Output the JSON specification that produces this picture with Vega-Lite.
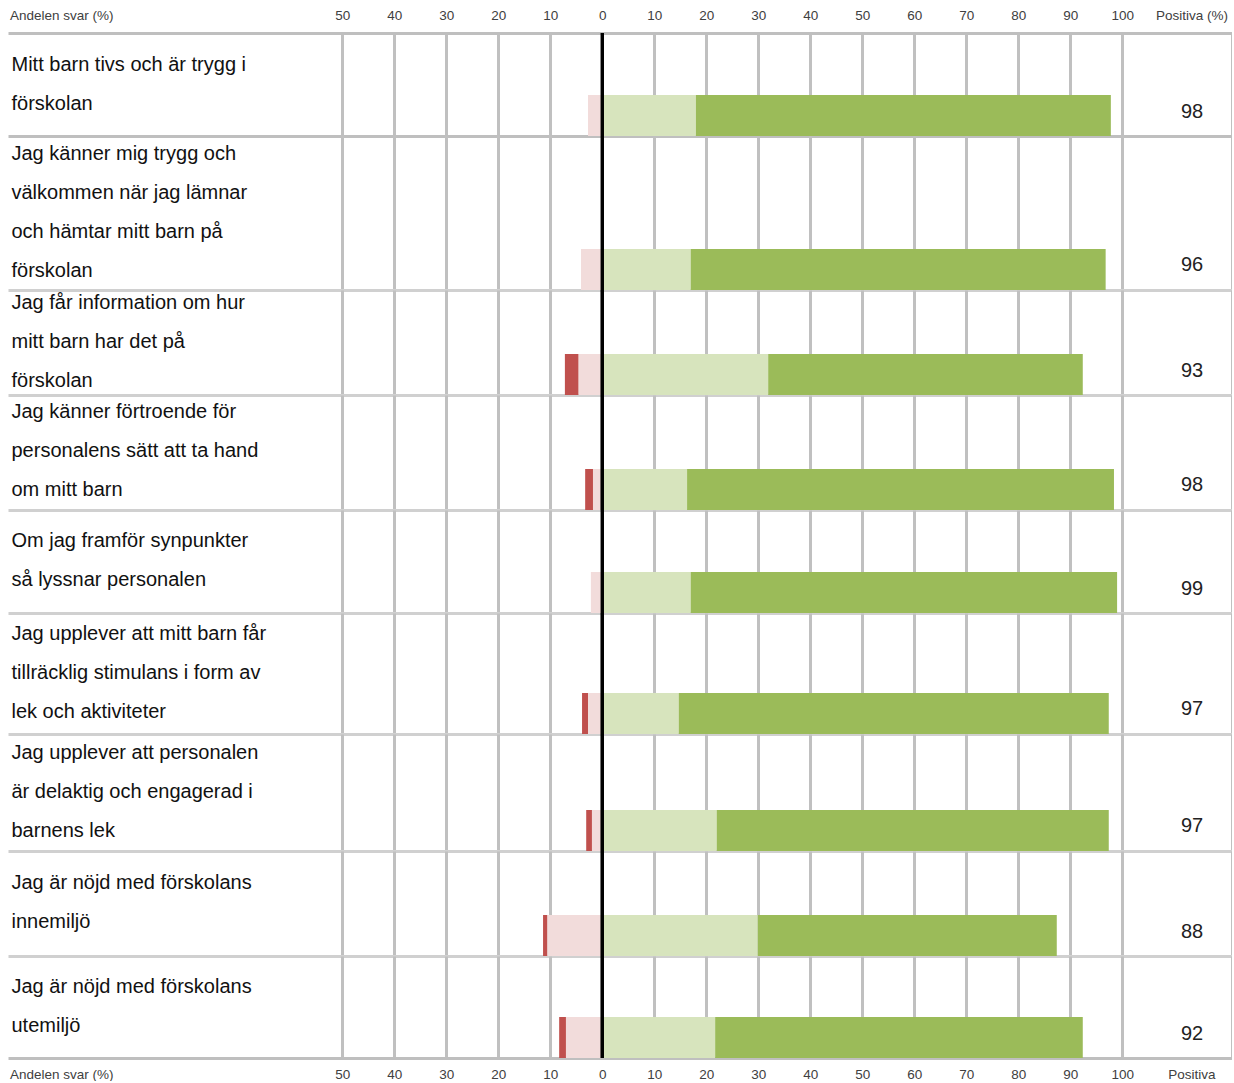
{
  "$schema": "https://vega.github.io/schema/vega-lite/v6.json",
  "padding": {"left": 8, "top": 8, "right": 0, "bottom": 0},
  "bounds": "flush",
  "spacing": 0,
  "background": "white",
  "config": {
    "view": {"stroke": null},
    "font": "Liberation Sans",
    "axis": {"labelFont": "Liberation Sans", "title": null}
  },
  "datasets": {
    "svar": [
      {"row": 1, "q": "Mitt barn tivs och är trygg i|förskolan", "pos": "98", "cat": "Negativ", "k": 1, "value": -2.75},
      {"row": 1, "q": "Mitt barn tivs och är trygg i|förskolan", "pos": "98", "cat": "Positiv", "k": 3, "value": 18.0},
      {"row": 1, "q": "Mitt barn tivs och är trygg i|förskolan", "pos": "98", "cat": "Mycket positiv", "k": 4, "value": 79.8},
      {"row": 2, "q": "Jag känner mig trygg och|välkommen när jag lämnar|och hämtar mitt barn på|förskolan", "pos": "96", "cat": "Negativ", "k": 1, "value": -4.1},
      {"row": 2, "q": "Jag känner mig trygg och|välkommen när jag lämnar|och hämtar mitt barn på|förskolan", "pos": "96", "cat": "Positiv", "k": 3, "value": 17.0},
      {"row": 2, "q": "Jag känner mig trygg och|välkommen när jag lämnar|och hämtar mitt barn på|förskolan", "pos": "96", "cat": "Mycket positiv", "k": 4, "value": 79.8},
      {"row": 3, "q": "Jag får information om hur|mitt barn har det på|förskolan", "pos": "93", "cat": "Negativ", "k": 1, "value": -4.6},
      {"row": 3, "q": "Jag får information om hur|mitt barn har det på|förskolan", "pos": "93", "cat": "Mycket negativ", "k": 2, "value": -2.6},
      {"row": 3, "q": "Jag får information om hur|mitt barn har det på|förskolan", "pos": "93", "cat": "Positiv", "k": 3, "value": 31.9},
      {"row": 3, "q": "Jag får information om hur|mitt barn har det på|förskolan", "pos": "93", "cat": "Mycket positiv", "k": 4, "value": 60.5},
      {"row": 4, "q": "Jag känner förtroende för|personalens sätt att ta hand|om mitt barn", "pos": "98", "cat": "Negativ", "k": 1, "value": -1.8},
      {"row": 4, "q": "Jag känner förtroende för|personalens sätt att ta hand|om mitt barn", "pos": "98", "cat": "Mycket negativ", "k": 2, "value": -1.5},
      {"row": 4, "q": "Jag känner förtroende för|personalens sätt att ta hand|om mitt barn", "pos": "98", "cat": "Positiv", "k": 3, "value": 16.3},
      {"row": 4, "q": "Jag känner förtroende för|personalens sätt att ta hand|om mitt barn", "pos": "98", "cat": "Mycket positiv", "k": 4, "value": 82.1},
      {"row": 5, "q": "Om jag framför synpunkter|så lyssnar personalen", "pos": "99", "cat": "Negativ", "k": 1, "value": -2.2},
      {"row": 5, "q": "Om jag framför synpunkter|så lyssnar personalen", "pos": "99", "cat": "Positiv", "k": 3, "value": 17.0},
      {"row": 5, "q": "Om jag framför synpunkter|så lyssnar personalen", "pos": "99", "cat": "Mycket positiv", "k": 4, "value": 82.0},
      {"row": 6, "q": "Jag upplever att mitt barn får|tillräcklig stimulans i form av|lek och aktiviteter", "pos": "97", "cat": "Negativ", "k": 1, "value": -2.75},
      {"row": 6, "q": "Jag upplever att mitt barn får|tillräcklig stimulans i form av|lek och aktiviteter", "pos": "97", "cat": "Mycket negativ", "k": 2, "value": -1.15},
      {"row": 6, "q": "Jag upplever att mitt barn får|tillräcklig stimulans i form av|lek och aktiviteter", "pos": "97", "cat": "Positiv", "k": 3, "value": 14.7},
      {"row": 6, "q": "Jag upplever att mitt barn får|tillräcklig stimulans i form av|lek och aktiviteter", "pos": "97", "cat": "Mycket positiv", "k": 4, "value": 82.7},
      {"row": 7, "q": "Jag upplever att personalen|är delaktig och engagerad i|barnens lek", "pos": "97", "cat": "Negativ", "k": 1, "value": -2.0},
      {"row": 7, "q": "Jag upplever att personalen|är delaktig och engagerad i|barnens lek", "pos": "97", "cat": "Mycket negativ", "k": 2, "value": -1.1},
      {"row": 7, "q": "Jag upplever att personalen|är delaktig och engagerad i|barnens lek", "pos": "97", "cat": "Positiv", "k": 3, "value": 22.0},
      {"row": 7, "q": "Jag upplever att personalen|är delaktig och engagerad i|barnens lek", "pos": "97", "cat": "Mycket positiv", "k": 4, "value": 75.4},
      {"row": 8, "q": "Jag är nöjd med förskolans|innemiljö", "pos": "88", "cat": "Negativ", "k": 1, "value": -10.6},
      {"row": 8, "q": "Jag är nöjd med förskolans|innemiljö", "pos": "88", "cat": "Mycket negativ", "k": 2, "value": -0.8},
      {"row": 8, "q": "Jag är nöjd med förskolans|innemiljö", "pos": "88", "cat": "Positiv", "k": 3, "value": 29.9},
      {"row": 8, "q": "Jag är nöjd med förskolans|innemiljö", "pos": "88", "cat": "Mycket positiv", "k": 4, "value": 57.5},
      {"row": 9, "q": "Jag är nöjd med förskolans|utemiljö", "pos": "92", "cat": "Negativ", "k": 1, "value": -7.0},
      {"row": 9, "q": "Jag är nöjd med förskolans|utemiljö", "pos": "92", "cat": "Mycket negativ", "k": 2, "value": -1.3},
      {"row": 9, "q": "Jag är nöjd med förskolans|utemiljö", "pos": "92", "cat": "Positiv", "k": 3, "value": 21.7},
      {"row": 9, "q": "Jag är nöjd med förskolans|utemiljö", "pos": "92", "cat": "Mycket positiv", "k": 4, "value": 70.7}
    ]
  },
  "data": {"name": "svar"},
  "vconcat": [
    {
      "height": 103, "width": 1224,
      "transform": [{"filter": "datum.row == 1"}],
      "layer": [
        {"transform": [{"filter": "datum.value < 0"}], "mark": "bar",
         "encoding": {
           "y": {"field": "q", "type": "nominal", "scale": {"paddingInner": 0, "paddingOuter": 0.7561, "align": 1},
                 "axis": {"orient": "left", "domain": false, "ticks": false, "tickSize": 0, "grid": false, "labelAlign": "left", "labelBaseline": "middle", "labelPadding": -3, "labelOffset": -51, "labelFontSize": 20, "labelLineHeight": 39, "labelLimit": 600, "labelColor": "#111111", "labelExpr": "split(datum.label, '|')"}},
           "x": {"field": "value", "type": "quantitative", "stack": "zero", "scale": {"domain": [-114.3, 121.1], "nice": false, "zero": false},
                 "axis": {"orient": "top", "values": [-114, -50, -40, -30, -20, -10, 0, 10, 20, 30, 40, 50, 60, 70, 80, 90, 100, 113.3, 121.1], "ticks": false, "domain": true, "domainColor": "#bfbfbf", "domainWidth": 3, "grid": true, "gridColor": "#c0c0c0", "gridWidth": 3, "gridOpacity": {"condition": {"test": "datum.value < -100 || (datum.value > 110 && datum.value < 120)", "value": 0}, "value": 1}, "labelPadding": 11, "labelFontSize": 13.5, "labelColor": "#404040", "labelFlush": false, "labelOverlap": false, "labelBound": false, "labelAlign": {"condition": {"test": "datum.value < -100", "value": "left"}, "value": "center"}, "labelExpr": "datum.value < -100 ? 'Andelen svar (%)' : datum.value > 120 ? '' : datum.value > 110 ? 'Positiva (%)' : '' + abs(datum.value)"}},
           "color": {"field": "cat", "type": "nominal", "scale": {"domain": ["Mycket negativ", "Negativ", "Positiv", "Mycket positiv"], "range": ["#c0504d", "#f2dcdb", "#d7e4bd", "#9bbb59"]}, "legend": null},
           "order": {"field": "k"}
         }},
        {"transform": [{"filter": "datum.value > 0"}], "mark": "bar",
         "encoding": {
           "y": {"field": "pos", "type": "nominal", "scale": {"paddingInner": 0, "paddingOuter": 0.7561, "align": 1},
                 "axis": {"orient": "right", "domain": false, "ticks": false, "tickSize": 0, "grid": false, "labelAlign": "center", "labelBaseline": "middle", "labelPadding": -40.5, "labelOffset": -4, "labelFontSize": 20, "labelColor": "#222222"}},
           "x": {"field": "value", "type": "quantitative", "stack": "zero", "scale": {"domain": [-114.3, 121.1], "nice": false, "zero": false},
                 "axis": {"orient": "bottom", "values": [0], "labels": false, "ticks": false, "grid": false, "domain": true, "domainColor": "#bfbfbf", "domainWidth": 3}},
           "color": {"field": "cat", "type": "nominal", "scale": {"domain": ["Mycket negativ", "Negativ", "Positiv", "Mycket positiv"], "range": ["#c0504d", "#f2dcdb", "#d7e4bd", "#9bbb59"]}, "legend": null},
           "order": {"field": "k"}
         }},
        {"mark": {"type": "rule", "color": "black", "strokeWidth": 3}, "encoding": {"x": {"datum": 0, "type": "quantitative", "axis": null}}}
      ],
      "resolve": {"scale": {"y": "independent"}, "axis": {"x": "independent", "y": "independent"}}
    },
    {
      "height": 154, "width": 1224,
      "transform": [{"filter": "datum.row == 2"}],
      "layer": [
        {"transform": [{"filter": "datum.value < 0"}], "mark": "bar",
         "encoding": {
           "y": {"field": "q", "type": "nominal", "scale": {"paddingInner": 0.2743, "paddingOuter": 1, "align": 1},
                 "axis": {"orient": "left", "domain": false, "ticks": false, "tickSize": 0, "grid": false, "labelAlign": "left", "labelBaseline": "middle", "labelPadding": -3, "labelOffset": -115.5, "labelFontSize": 20, "labelLineHeight": 39, "labelLimit": 600, "labelColor": "#111111", "labelExpr": "split(datum.label, '|')"}},
           "x": {"field": "value", "type": "quantitative", "stack": "zero", "scale": {"domain": [-114.3, 121.1], "nice": false, "zero": false},
                 "axis": {"orient": "bottom", "values": [-50, -40, -30, -20, -10, 0, 10, 20, 30, 40, 50, 60, 70, 80, 90, 100, 121.1], "labels": false, "ticks": false, "domain": true, "domainColor": "#d0d0d0", "domainWidth": 3, "grid": true, "gridColor": "#c0c0c0", "gridWidth": 3}},
           "color": {"field": "cat", "type": "nominal", "scale": {"domain": ["Mycket negativ", "Negativ", "Positiv", "Mycket positiv"], "range": ["#c0504d", "#f2dcdb", "#d7e4bd", "#9bbb59"]}, "legend": null},
           "order": {"field": "k"}
         }},
        {"transform": [{"filter": "datum.value > 0"}], "mark": "bar",
         "encoding": {
           "y": {"field": "pos", "type": "nominal", "scale": {"paddingInner": 0.2743, "paddingOuter": 1, "align": 1},
                 "axis": {"orient": "right", "domain": false, "ticks": false, "tickSize": 0, "grid": false, "labelAlign": "center", "labelBaseline": "middle", "labelPadding": -40.5, "labelOffset": -4, "labelFontSize": 20, "labelColor": "#222222"}},
           "x": {"field": "value", "type": "quantitative", "stack": "zero", "scale": {"domain": [-114.3, 121.1], "nice": false, "zero": false}, "axis": null},
           "color": {"field": "cat", "type": "nominal", "scale": {"domain": ["Mycket negativ", "Negativ", "Positiv", "Mycket positiv"], "range": ["#c0504d", "#f2dcdb", "#d7e4bd", "#9bbb59"]}, "legend": null},
           "order": {"field": "k"}
         }},
        {"mark": {"type": "rule", "color": "black", "strokeWidth": 3}, "encoding": {"x": {"datum": 0, "type": "quantitative", "axis": null}}}
      ],
      "resolve": {"scale": {"y": "independent"}, "axis": {"x": "independent", "y": "independent"}}
    },
    {
      "height": 105, "width": 1224,
      "transform": [{"filter": "datum.row == 3"}],
      "layer": [
        {"transform": [{"filter": "datum.value < 0"}], "mark": "bar",
         "encoding": {
           "y": {"field": "q", "type": "nominal", "scale": {"paddingInner": 0, "paddingOuter": 0.7805, "align": 1},
                 "axis": {"orient": "left", "domain": false, "ticks": false, "tickSize": 0, "grid": false, "labelAlign": "left", "labelBaseline": "middle", "labelPadding": -3, "labelOffset": -72, "labelFontSize": 20, "labelLineHeight": 39, "labelLimit": 600, "labelColor": "#111111", "labelExpr": "split(datum.label, '|')"}},
           "x": {"field": "value", "type": "quantitative", "stack": "zero", "scale": {"domain": [-114.3, 121.1], "nice": false, "zero": false},
                 "axis": {"orient": "bottom", "values": [-50, -40, -30, -20, -10, 0, 10, 20, 30, 40, 50, 60, 70, 80, 90, 100, 121.1], "labels": false, "ticks": false, "domain": true, "domainColor": "#d0d0d0", "domainWidth": 3, "grid": true, "gridColor": "#c0c0c0", "gridWidth": 3}},
           "color": {"field": "cat", "type": "nominal", "scale": {"domain": ["Mycket negativ", "Negativ", "Positiv", "Mycket positiv"], "range": ["#c0504d", "#f2dcdb", "#d7e4bd", "#9bbb59"]}, "legend": null},
           "order": {"field": "k"}
         }},
        {"transform": [{"filter": "datum.value > 0"}], "mark": "bar",
         "encoding": {
           "y": {"field": "pos", "type": "nominal", "scale": {"paddingInner": 0, "paddingOuter": 0.7805, "align": 1},
                 "axis": {"orient": "right", "domain": false, "ticks": false, "tickSize": 0, "grid": false, "labelAlign": "center", "labelBaseline": "middle", "labelPadding": -40.5, "labelOffset": -4, "labelFontSize": 20, "labelColor": "#222222"}},
           "x": {"field": "value", "type": "quantitative", "stack": "zero", "scale": {"domain": [-114.3, 121.1], "nice": false, "zero": false}, "axis": null},
           "color": {"field": "cat", "type": "nominal", "scale": {"domain": ["Mycket negativ", "Negativ", "Positiv", "Mycket positiv"], "range": ["#c0504d", "#f2dcdb", "#d7e4bd", "#9bbb59"]}, "legend": null},
           "order": {"field": "k"}
         }},
        {"mark": {"type": "rule", "color": "black", "strokeWidth": 3}, "encoding": {"x": {"datum": 0, "type": "quantitative", "axis": null}}}
      ],
      "resolve": {"scale": {"y": "independent"}, "axis": {"x": "independent", "y": "independent"}}
    },
    {
      "height": 115, "width": 1224,
      "transform": [{"filter": "datum.row == 4"}],
      "layer": [
        {"transform": [{"filter": "datum.value < 0"}], "mark": "bar",
         "encoding": {
           "y": {"field": "q", "type": "nominal", "scale": {"paddingInner": 0, "paddingOuter": 0.9024, "align": 1},
                 "axis": {"orient": "left", "domain": false, "ticks": false, "tickSize": 0, "grid": false, "labelAlign": "left", "labelBaseline": "middle", "labelPadding": -3, "labelOffset": -77, "labelFontSize": 20, "labelLineHeight": 39, "labelLimit": 600, "labelColor": "#111111", "labelExpr": "split(datum.label, '|')"}},
           "x": {"field": "value", "type": "quantitative", "stack": "zero", "scale": {"domain": [-114.3, 121.1], "nice": false, "zero": false},
                 "axis": {"orient": "bottom", "values": [-50, -40, -30, -20, -10, 0, 10, 20, 30, 40, 50, 60, 70, 80, 90, 100, 121.1], "labels": false, "ticks": false, "domain": true, "domainColor": "#d0d0d0", "domainWidth": 3, "grid": true, "gridColor": "#c0c0c0", "gridWidth": 3}},
           "color": {"field": "cat", "type": "nominal", "scale": {"domain": ["Mycket negativ", "Negativ", "Positiv", "Mycket positiv"], "range": ["#c0504d", "#f2dcdb", "#d7e4bd", "#9bbb59"]}, "legend": null},
           "order": {"field": "k"}
         }},
        {"transform": [{"filter": "datum.value > 0"}], "mark": "bar",
         "encoding": {
           "y": {"field": "pos", "type": "nominal", "scale": {"paddingInner": 0, "paddingOuter": 0.9024, "align": 1},
                 "axis": {"orient": "right", "domain": false, "ticks": false, "tickSize": 0, "grid": false, "labelAlign": "center", "labelBaseline": "middle", "labelPadding": -40.5, "labelOffset": -4, "labelFontSize": 20, "labelColor": "#222222"}},
           "x": {"field": "value", "type": "quantitative", "stack": "zero", "scale": {"domain": [-114.3, 121.1], "nice": false, "zero": false}, "axis": null},
           "color": {"field": "cat", "type": "nominal", "scale": {"domain": ["Mycket negativ", "Negativ", "Positiv", "Mycket positiv"], "range": ["#c0504d", "#f2dcdb", "#d7e4bd", "#9bbb59"]}, "legend": null},
           "order": {"field": "k"}
         }},
        {"mark": {"type": "rule", "color": "black", "strokeWidth": 3}, "encoding": {"x": {"datum": 0, "type": "quantitative", "axis": null}}}
      ],
      "resolve": {"scale": {"y": "independent"}, "axis": {"x": "independent", "y": "independent"}}
    },
    {
      "height": 103, "width": 1224,
      "transform": [{"filter": "datum.row == 5"}],
      "layer": [
        {"transform": [{"filter": "datum.value < 0"}], "mark": "bar",
         "encoding": {
           "y": {"field": "q", "type": "nominal", "scale": {"paddingInner": 0, "paddingOuter": 0.7561, "align": 1},
                 "axis": {"orient": "left", "domain": false, "ticks": false, "tickSize": 0, "grid": false, "labelAlign": "left", "labelBaseline": "middle", "labelPadding": -3, "labelOffset": -52, "labelFontSize": 20, "labelLineHeight": 39, "labelLimit": 600, "labelColor": "#111111", "labelExpr": "split(datum.label, '|')"}},
           "x": {"field": "value", "type": "quantitative", "stack": "zero", "scale": {"domain": [-114.3, 121.1], "nice": false, "zero": false},
                 "axis": {"orient": "bottom", "values": [-50, -40, -30, -20, -10, 0, 10, 20, 30, 40, 50, 60, 70, 80, 90, 100, 121.1], "labels": false, "ticks": false, "domain": true, "domainColor": "#d0d0d0", "domainWidth": 3, "grid": true, "gridColor": "#c0c0c0", "gridWidth": 3}},
           "color": {"field": "cat", "type": "nominal", "scale": {"domain": ["Mycket negativ", "Negativ", "Positiv", "Mycket positiv"], "range": ["#c0504d", "#f2dcdb", "#d7e4bd", "#9bbb59"]}, "legend": null},
           "order": {"field": "k"}
         }},
        {"transform": [{"filter": "datum.value > 0"}], "mark": "bar",
         "encoding": {
           "y": {"field": "pos", "type": "nominal", "scale": {"paddingInner": 0, "paddingOuter": 0.7561, "align": 1},
                 "axis": {"orient": "right", "domain": false, "ticks": false, "tickSize": 0, "grid": false, "labelAlign": "center", "labelBaseline": "middle", "labelPadding": -40.5, "labelOffset": -4, "labelFontSize": 20, "labelColor": "#222222"}},
           "x": {"field": "value", "type": "quantitative", "stack": "zero", "scale": {"domain": [-114.3, 121.1], "nice": false, "zero": false}, "axis": null},
           "color": {"field": "cat", "type": "nominal", "scale": {"domain": ["Mycket negativ", "Negativ", "Positiv", "Mycket positiv"], "range": ["#c0504d", "#f2dcdb", "#d7e4bd", "#9bbb59"]}, "legend": null},
           "order": {"field": "k"}
         }},
        {"mark": {"type": "rule", "color": "black", "strokeWidth": 3}, "encoding": {"x": {"datum": 0, "type": "quantitative", "axis": null}}}
      ],
      "resolve": {"scale": {"y": "independent"}, "axis": {"x": "independent", "y": "independent"}}
    },
    {
      "height": 121, "width": 1224,
      "transform": [{"filter": "datum.row == 6"}],
      "layer": [
        {"transform": [{"filter": "datum.value < 0"}], "mark": "bar",
         "encoding": {
           "y": {"field": "q", "type": "nominal", "scale": {"paddingInner": 0, "paddingOuter": 0.9756, "align": 1},
                 "axis": {"orient": "left", "domain": false, "ticks": false, "tickSize": 0, "grid": false, "labelAlign": "left", "labelBaseline": "middle", "labelPadding": -3, "labelOffset": -79, "labelFontSize": 20, "labelLineHeight": 39, "labelLimit": 600, "labelColor": "#111111", "labelExpr": "split(datum.label, '|')"}},
           "x": {"field": "value", "type": "quantitative", "stack": "zero", "scale": {"domain": [-114.3, 121.1], "nice": false, "zero": false},
                 "axis": {"orient": "bottom", "values": [-50, -40, -30, -20, -10, 0, 10, 20, 30, 40, 50, 60, 70, 80, 90, 100, 121.1], "labels": false, "ticks": false, "domain": true, "domainColor": "#d0d0d0", "domainWidth": 3, "grid": true, "gridColor": "#c0c0c0", "gridWidth": 3}},
           "color": {"field": "cat", "type": "nominal", "scale": {"domain": ["Mycket negativ", "Negativ", "Positiv", "Mycket positiv"], "range": ["#c0504d", "#f2dcdb", "#d7e4bd", "#9bbb59"]}, "legend": null},
           "order": {"field": "k"}
         }},
        {"transform": [{"filter": "datum.value > 0"}], "mark": "bar",
         "encoding": {
           "y": {"field": "pos", "type": "nominal", "scale": {"paddingInner": 0, "paddingOuter": 0.9756, "align": 1},
                 "axis": {"orient": "right", "domain": false, "ticks": false, "tickSize": 0, "grid": false, "labelAlign": "center", "labelBaseline": "middle", "labelPadding": -40.5, "labelOffset": -4, "labelFontSize": 20, "labelColor": "#222222"}},
           "x": {"field": "value", "type": "quantitative", "stack": "zero", "scale": {"domain": [-114.3, 121.1], "nice": false, "zero": false}, "axis": null},
           "color": {"field": "cat", "type": "nominal", "scale": {"domain": ["Mycket negativ", "Negativ", "Positiv", "Mycket positiv"], "range": ["#c0504d", "#f2dcdb", "#d7e4bd", "#9bbb59"]}, "legend": null},
           "order": {"field": "k"}
         }},
        {"mark": {"type": "rule", "color": "black", "strokeWidth": 3}, "encoding": {"x": {"datum": 0, "type": "quantitative", "axis": null}}}
      ],
      "resolve": {"scale": {"y": "independent"}, "axis": {"x": "independent", "y": "independent"}}
    },
    {
      "height": 117, "width": 1224,
      "transform": [{"filter": "datum.row == 7"}],
      "layer": [
        {"transform": [{"filter": "datum.value < 0"}], "mark": "bar",
         "encoding": {
           "y": {"field": "q", "type": "nominal", "scale": {"paddingInner": 0, "paddingOuter": 0.9268, "align": 1},
                 "axis": {"orient": "left", "domain": false, "ticks": false, "tickSize": 0, "grid": false, "labelAlign": "left", "labelBaseline": "middle", "labelPadding": -3, "labelOffset": -77, "labelFontSize": 20, "labelLineHeight": 39, "labelLimit": 600, "labelColor": "#111111", "labelExpr": "split(datum.label, '|')"}},
           "x": {"field": "value", "type": "quantitative", "stack": "zero", "scale": {"domain": [-114.3, 121.1], "nice": false, "zero": false},
                 "axis": {"orient": "bottom", "values": [-50, -40, -30, -20, -10, 0, 10, 20, 30, 40, 50, 60, 70, 80, 90, 100, 121.1], "labels": false, "ticks": false, "domain": true, "domainColor": "#d0d0d0", "domainWidth": 3, "grid": true, "gridColor": "#c0c0c0", "gridWidth": 3}},
           "color": {"field": "cat", "type": "nominal", "scale": {"domain": ["Mycket negativ", "Negativ", "Positiv", "Mycket positiv"], "range": ["#c0504d", "#f2dcdb", "#d7e4bd", "#9bbb59"]}, "legend": null},
           "order": {"field": "k"}
         }},
        {"transform": [{"filter": "datum.value > 0"}], "mark": "bar",
         "encoding": {
           "y": {"field": "pos", "type": "nominal", "scale": {"paddingInner": 0, "paddingOuter": 0.9268, "align": 1},
                 "axis": {"orient": "right", "domain": false, "ticks": false, "tickSize": 0, "grid": false, "labelAlign": "center", "labelBaseline": "middle", "labelPadding": -40.5, "labelOffset": -4, "labelFontSize": 20, "labelColor": "#222222"}},
           "x": {"field": "value", "type": "quantitative", "stack": "zero", "scale": {"domain": [-114.3, 121.1], "nice": false, "zero": false}, "axis": null},
           "color": {"field": "cat", "type": "nominal", "scale": {"domain": ["Mycket negativ", "Negativ", "Positiv", "Mycket positiv"], "range": ["#c0504d", "#f2dcdb", "#d7e4bd", "#9bbb59"]}, "legend": null},
           "order": {"field": "k"}
         }},
        {"mark": {"type": "rule", "color": "black", "strokeWidth": 3}, "encoding": {"x": {"datum": 0, "type": "quantitative", "axis": null}}}
      ],
      "resolve": {"scale": {"y": "independent"}, "axis": {"x": "independent", "y": "independent"}}
    },
    {
      "height": 105, "width": 1224,
      "transform": [{"filter": "datum.row == 8"}],
      "layer": [
        {"transform": [{"filter": "datum.value < 0"}], "mark": "bar",
         "encoding": {
           "y": {"field": "q", "type": "nominal", "scale": {"paddingInner": 0, "paddingOuter": 0.7805, "align": 1},
                 "axis": {"orient": "left", "domain": false, "ticks": false, "tickSize": 0, "grid": false, "labelAlign": "left", "labelBaseline": "middle", "labelPadding": -3, "labelOffset": -53, "labelFontSize": 20, "labelLineHeight": 39, "labelLimit": 600, "labelColor": "#111111", "labelExpr": "split(datum.label, '|')"}},
           "x": {"field": "value", "type": "quantitative", "stack": "zero", "scale": {"domain": [-114.3, 121.1], "nice": false, "zero": false},
                 "axis": {"orient": "bottom", "values": [-50, -40, -30, -20, -10, 0, 10, 20, 30, 40, 50, 60, 70, 80, 90, 100, 121.1], "labels": false, "ticks": false, "domain": true, "domainColor": "#d0d0d0", "domainWidth": 3, "grid": true, "gridColor": "#c0c0c0", "gridWidth": 3}},
           "color": {"field": "cat", "type": "nominal", "scale": {"domain": ["Mycket negativ", "Negativ", "Positiv", "Mycket positiv"], "range": ["#c0504d", "#f2dcdb", "#d7e4bd", "#9bbb59"]}, "legend": null},
           "order": {"field": "k"}
         }},
        {"transform": [{"filter": "datum.value > 0"}], "mark": "bar",
         "encoding": {
           "y": {"field": "pos", "type": "nominal", "scale": {"paddingInner": 0, "paddingOuter": 0.7805, "align": 1},
                 "axis": {"orient": "right", "domain": false, "ticks": false, "tickSize": 0, "grid": false, "labelAlign": "center", "labelBaseline": "middle", "labelPadding": -40.5, "labelOffset": -4, "labelFontSize": 20, "labelColor": "#222222"}},
           "x": {"field": "value", "type": "quantitative", "stack": "zero", "scale": {"domain": [-114.3, 121.1], "nice": false, "zero": false}, "axis": null},
           "color": {"field": "cat", "type": "nominal", "scale": {"domain": ["Mycket negativ", "Negativ", "Positiv", "Mycket positiv"], "range": ["#c0504d", "#f2dcdb", "#d7e4bd", "#9bbb59"]}, "legend": null},
           "order": {"field": "k"}
         }},
        {"mark": {"type": "rule", "color": "black", "strokeWidth": 3}, "encoding": {"x": {"datum": 0, "type": "quantitative", "axis": null}}}
      ],
      "resolve": {"scale": {"y": "independent"}, "axis": {"x": "independent", "y": "independent"}}
    },
    {
      "height": 102, "width": 1224,
      "transform": [{"filter": "datum.row == 9"}],
      "layer": [
        {"transform": [{"filter": "datum.value < 0"}], "mark": "bar",
         "encoding": {
           "y": {"field": "q", "type": "nominal", "scale": {"paddingInner": 0, "paddingOuter": 0.7439, "align": 1},
                 "axis": {"orient": "left", "domain": false, "ticks": false, "tickSize": 0, "grid": false, "labelAlign": "left", "labelBaseline": "middle", "labelPadding": -3, "labelOffset": -50.5, "labelFontSize": 20, "labelLineHeight": 39, "labelLimit": 600, "labelColor": "#111111", "labelExpr": "split(datum.label, '|')"}},
           "x": {"field": "value", "type": "quantitative", "stack": "zero", "scale": {"domain": [-114.3, 121.1], "nice": false, "zero": false},
                 "axis": {"orient": "bottom", "values": [-114, -50, -40, -30, -20, -10, 0, 10, 20, 30, 40, 50, 60, 70, 80, 90, 100, 113.3, 121.1], "ticks": false, "domain": true, "domainColor": "#bfbfbf", "domainWidth": 3, "grid": true, "gridColor": "#c0c0c0", "gridWidth": 3, "gridOpacity": {"condition": {"test": "datum.value < -100 || (datum.value > 110 && datum.value < 120)", "value": 0}, "value": 1}, "labelPadding": 9, "labelFontSize": 13.5, "labelColor": "#404040", "labelFlush": false, "labelOverlap": false, "labelBound": false, "labelAlign": {"condition": {"test": "datum.value < -100", "value": "left"}, "value": "center"}, "labelExpr": "datum.value < -100 ? 'Andelen svar (%)' : datum.value > 120 ? '' : datum.value > 110 ? 'Positiva' : '' + abs(datum.value)"}},
           "color": {"field": "cat", "type": "nominal", "scale": {"domain": ["Mycket negativ", "Negativ", "Positiv", "Mycket positiv"], "range": ["#c0504d", "#f2dcdb", "#d7e4bd", "#9bbb59"]}, "legend": null},
           "order": {"field": "k"}
         }},
        {"transform": [{"filter": "datum.value > 0"}], "mark": "bar",
         "encoding": {
           "y": {"field": "pos", "type": "nominal", "scale": {"paddingInner": 0, "paddingOuter": 0.7439, "align": 1},
                 "axis": {"orient": "right", "domain": false, "ticks": false, "tickSize": 0, "grid": false, "labelAlign": "center", "labelBaseline": "middle", "labelPadding": -40.5, "labelOffset": -4, "labelFontSize": 20, "labelColor": "#222222"}},
           "x": {"field": "value", "type": "quantitative", "stack": "zero", "scale": {"domain": [-114.3, 121.1], "nice": false, "zero": false}, "axis": null},
           "color": {"field": "cat", "type": "nominal", "scale": {"domain": ["Mycket negativ", "Negativ", "Positiv", "Mycket positiv"], "range": ["#c0504d", "#f2dcdb", "#d7e4bd", "#9bbb59"]}, "legend": null},
           "order": {"field": "k"}
         }},
        {"mark": {"type": "rule", "color": "black", "strokeWidth": 3}, "encoding": {"x": {"datum": 0, "type": "quantitative", "axis": null}}}
      ],
      "resolve": {"scale": {"y": "independent"}, "axis": {"x": "independent", "y": "independent"}}
    }
  ]
}
